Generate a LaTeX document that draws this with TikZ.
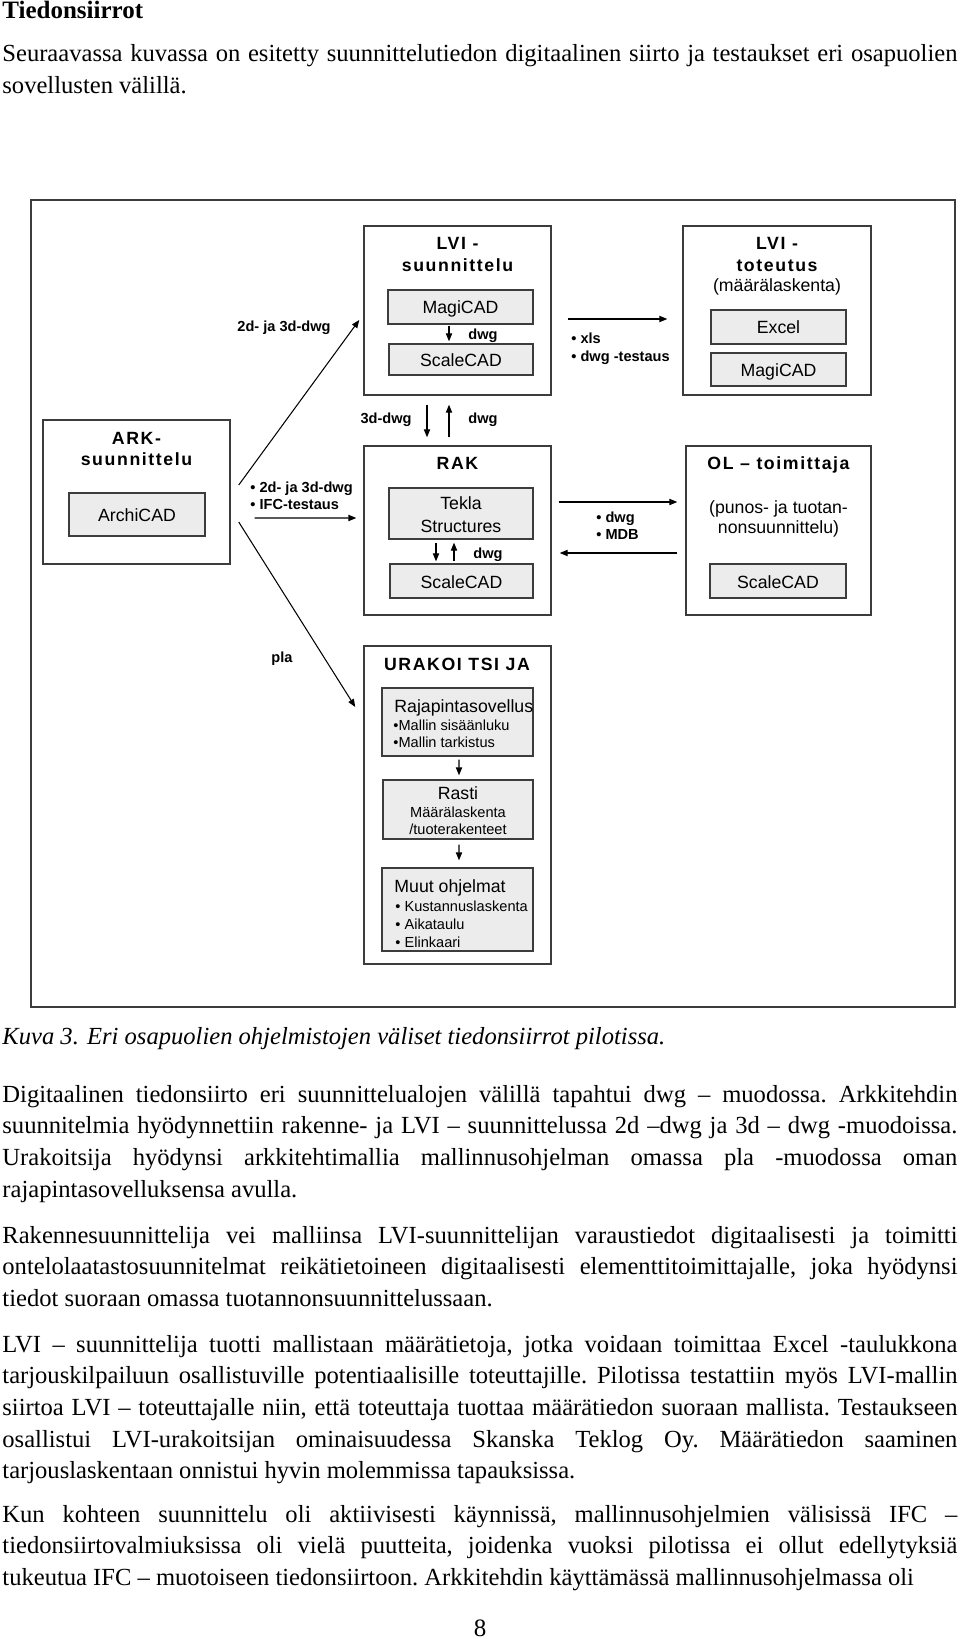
\documentclass[tikz,border=0pt]{standalone}
\usepackage{fontspec}
\setmainfont{Liberation Serif}
\setsansfont{Liberation Sans}
\newfontfamily\headfont{Liberation Sans}[LetterSpace=9]
\usepackage{tikz}
\usetikzlibrary{arrows.meta, positioning, fit, calc}
\definecolor{boxgray}{RGB}{60,60,60}
\definecolor{fillgray}{RGB}{236,236,236}

\begin{document}
\begin{tikzpicture}[
  x=0.48pt, y=-0.48pt,
  frame/.style={draw=boxgray, line width=0.7pt, inner sep=0pt, fit={#1}},
  bigbox/.style={draw=boxgray, line width=0.7pt, inner sep=0pt, fit={#1}},
  subbox/.style={draw=boxgray, fill=fillgray, line width=0.65pt, inner sep=0pt, fit={#1}},
  head/.style={anchor=base, inner sep=0pt, font=\headfont\bfseries\fontsize{8.5}{10}\selectfont},
  subtxt/.style={anchor=base, inner sep=0pt, font=\sffamily\fontsize{8.5}{10}\selectfont},
  smalltxt/.style={anchor=base, inner sep=0pt, font=\sffamily\fontsize{7}{8}\selectfont},
  lab/.style={anchor=base west, inner sep=0pt, font=\sffamily\bfseries\fontsize{7}{8}\selectfont},
  arrow/.style={-{Triangle[length=3.8pt,width=3pt]}, line width=0.5pt},
  para/.style={anchor=base west, inner sep=0pt, text width=458.4pt, align=justify,
               font=\fontsize{11.8}{15.2}\selectfont\frenchspacing},
]
\useasboundingbox (0,0) rectangle (960,1639);

%% Page text above the figure
\node[anchor=base west, inner sep=0pt, font=\bfseries\fontsize{12}{15}\selectfont] (title) at (2,19) {Tiedonsiirrot};
\node[para] (intro) at (2,62) {Seuraavassa kuvassa on esitetty suunnittelutiedon digitaalinen siirto ja testaukset eri osapuolien\linebreak sovellusten välillä.};

%% Figure frame
\node[frame={(31,200) (955,1007)}] (frame) {};

%% ARK
\node[bigbox={(43,420) (230,564)}] (ark) {};
\node[head] (arkT1) at (136.5,444) {ARK-};
\node[head] (arkT2) at (136.5,466) {suunnittelu};
\node[subbox={(69,493) (205,536)}] (arkA) {};
\node[subtxt] (arkAT) at ($(arkA.center)+(0,7)$) {ArchiCAD};

%% LVI-suunnittelu
\node[bigbox={(364,226) (551,395)}] (lvis) {};
\node[head] (lvisT1) at (457.5,250) {LVI -};
\node[head] (lvisT2) at (457.5,272) {suunnittelu};
\node[subbox={(388,290) (533,324)}] (lvisM) {};
\node[subtxt] (lvisMT) at ($(lvisM.center)+(0,7)$) {MagiCAD};
\node[subbox={(389,344) (533,375)}] (lvisS) {};
\node[subtxt] (lvisST) at ($(lvisS.center)+(0,7)$) {ScaleCAD};
\draw[arrow] ($(lvisM.south)+(-11.5,1)$) -- ($(lvisS.north)+(-12,-2)$);
\node[lab] (lvisL) at (468,340) {dwg};

%% LVI-toteutus
\node[bigbox={(683,226) (871,395)}] (lvit) {};
\node[head] (lvitT1) at (777,250) {LVI -};
\node[head] (lvitT2) at (777,272) {toteutus};
\node[subtxt] (lvitT3) at (777,292) {(määrälaskenta)};
\node[subbox={(711,310) (846,344)}] (lvitE) {};
\node[subtxt] (lvitET) at ($(lvitE.center)+(0,7)$) {Excel};
\node[subbox={(711,353) (846,386)}] (lvitM) {};
\node[subtxt] (lvitMT) at ($(lvitM.center)+(0,7)$) {MagiCAD};

%% RAK
\node[bigbox={(364,446) (551,615)}] (rak) {};
\node[head] (rakT1) at (457.5,470) {RAK};
\node[subbox={(389,488) (533,539)}] (rakT) {};
\node[subtxt] (rakT2) at (461,510) {Tekla};
\node[subtxt] (rakT3) at (461,532) {Structures};
\node[subbox={(390,564) (533,598)}] (rakS) {};
\node[subtxt] (rakST) at ($(rakS.center)+(0,7)$) {ScaleCAD};
\draw[arrow] ($(rakT.south)+(-25,3)$) -- ($(rakS.north)+(-25.5,-2)$);
\draw[arrow] ($(rakS.north)+(-7.5,-2)$) -- ($(rakT.south)+(-7,3)$);
\node[lab] (rakL) at (473,558) {dwg};

%% OL - toimittaja
\node[bigbox={(686,446) (871,615)}] (ol) {};
\node[head] (olT1) at (778.5,470) {OL – toimittaja};
\node[subtxt] (olT2) at (778.5,513) {(punos- ja tuotan-};
\node[subtxt] (olT3) at (778.5,533) {nonsuunnittelu)};
\node[subbox={(710,564) (846,598)}] (olS) {};
\node[subtxt] (olST) at ($(olS.center)+(0,7)$) {ScaleCAD};

%% URAKOITSIJA
\node[bigbox={(364,646) (551,964)}] (ura) {};
\node[head] (uraT1) at (457,670) {URAKOI TSI JA};
\node[subbox={(382,688) (533,756)}] (uraR) {};
\node[subtxt, anchor=base west] (uraR1) at (394,712) {Rajapintasovellus};
\node[smalltxt, anchor=base west] (uraR2) at (393,730) {•Mallin sisäänluku};
\node[smalltxt, anchor=base west] (uraR3) at (393,747) {•Mallin tarkistus};
\node[subbox={(383,780) (533,839)}] (uraA) {};
\node[subtxt] (uraA1) at (458,799) {Rasti};
\node[smalltxt] (uraA2) at (458,817) {Määrälaskenta};
\node[smalltxt] (uraA3) at (458,834) {/tuoterakenteet};
\node[subbox={(382,868) (533,951)}] (uraM) {};
\node[subtxt, anchor=base west] (uraM1) at (394,892) {Muut ohjelmat};
\node[smalltxt, anchor=base west] (uraM2) at (395,911) {• Kustannuslaskenta};
\node[smalltxt, anchor=base west] (uraM3) at (395,929) {• Aikataulu};
\node[smalltxt, anchor=base west] (uraM4) at (395,947) {• Elinkaari};
\draw[arrow] ($(uraR.south)+(1.5,3)$) -- ($(uraA.north)+(1,-4)$);
\draw[arrow] ($(uraA.south)+(1,5)$) -- ($(uraM.north)+(1.5,-7)$);

%% Transfers between the parties
\draw[arrow] ($(ark.east)+(8,-7)$) -- ($(lvis.west)+(-4,9.5)$);
\node[lab] (l2d) at (237,332) {2d- ja 3d-dwg};
\draw[arrow] ($(ark.east)+(24,26)$) -- ($(rak.west)+(-7,-12.5)$);
\node[lab] (lifc1) at (250,492) {• 2d- ja 3d-dwg};
\node[lab] (lifc2) at (250,509) {• IFC-testaus};
\draw[arrow] ($(ark.east)+(8,30)$) -- ($(ura.west)+(-8,-98)$);
\node[lab] (lpla) at (271,662) {pla};

\draw[arrow] ($(lvis.south)+(-30.5,9)$) -- ($(rak.north)+(-30.5,-8)$);
\draw[arrow] ($(rak.north)+(-8.5,-8)$) -- ($(lvis.south)+(-8.5,9)$);
\node[lab, anchor=base east] (l3d) at (412,424) {3d-dwg};
\node[lab] (ldwg) at (468,424) {dwg};

\draw[arrow] ($(lvis.east)+(16,8.5)$) -- ($(lvit.west)+(-15,8.5)$);
\node[lab] (lxls1) at (571,344) {• xls};
\node[lab] (lxls2) at (571,362) {• dwg -testaus};

\draw[arrow] ($(rak.east)+(7,-28.5)$) -- ($(ol.west)+(-8,-28.5)$);
\draw[arrow] ($(ol.west)+(-8,22.5)$) -- ($(rak.east)+(8,22.5)$);
\node[lab] (lmdb1) at (596,522) {• dwg};
\node[lab] (lmdb2) at (596,539) {• MDB};

%% Caption and body text
\node[anchor=base west, inner sep=0pt, font=\itshape\fontsize{11.8}{15}\selectfont] (caption) at (2,1044)
  {Kuva 3. Eri osapuolien ohjelmistojen väliset tiedonsiirrot pilotissa.};
\node[para] (p1) at (2,1102) {Digitaalinen tiedonsiirto eri suunnittelualojen välillä tapahtui dwg – muodossa. Arkkitehdin\linebreak
  suunnitelmia hyödynnettiin rakenne- ja LVI – suunnittelussa 2d –dwg ja 3d – dwg -muodoissa.\linebreak
  Urakoitsija hyödynsi arkkitehtimallia mallinnusohjelman omassa pla -muodossa oman\linebreak
  rajapintasovelluksensa avulla.};
\node[para] (p2) at (2,1243) {Rakennesuunnittelija vei malliinsa LVI-suunnittelijan varaustiedot digitaalisesti ja toimitti\linebreak
  ontelolaatastosuunnitelmat reikätietoineen digitaalisesti elementtitoimittajalle, joka hyödynsi\linebreak
  tiedot suoraan omassa tuotannonsuunnittelussaan.};
\node[para] (p3) at (2,1352) {LVI – suunnittelija tuotti mallistaan määrätietoja, jotka voidaan toimittaa Excel -taulukkona\linebreak
  tarjouskilpailuun osallistuville potentiaalisille toteuttajille. Pilotissa testattiin myös LVI-mallin\linebreak
  siirtoa LVI – toteuttajalle niin, että toteuttaja tuottaa määrätiedon suoraan mallista. Testaukseen\linebreak
  osallistui LVI-urakoitsijan ominaisuudessa Skanska Teklog Oy. Määrätiedon saaminen\linebreak
  tarjouslaskentaan onnistui hyvin molemmissa tapauksissa.};
\node[para] (p4) at (2,1522) {\parfillskip=0pt Kun kohteen suunnittelu oli aktiivisesti käynnissä, mallinnusohjelmien välisissä IFC –\linebreak
  tiedonsiirtovalmiuksissa oli vielä puutteita, joidenka vuoksi pilotissa ei ollut edellytyksiä\linebreak
  tukeutua IFC – muotoiseen tiedonsiirtoon. Arkkitehdin käyttämässä mallinnusohjelmassa oli};
\node[anchor=base, inner sep=0pt, font=\fontsize{12}{15}\selectfont] (pagenum) at (480,1636) {8};

\end{tikzpicture}
\end{document}
